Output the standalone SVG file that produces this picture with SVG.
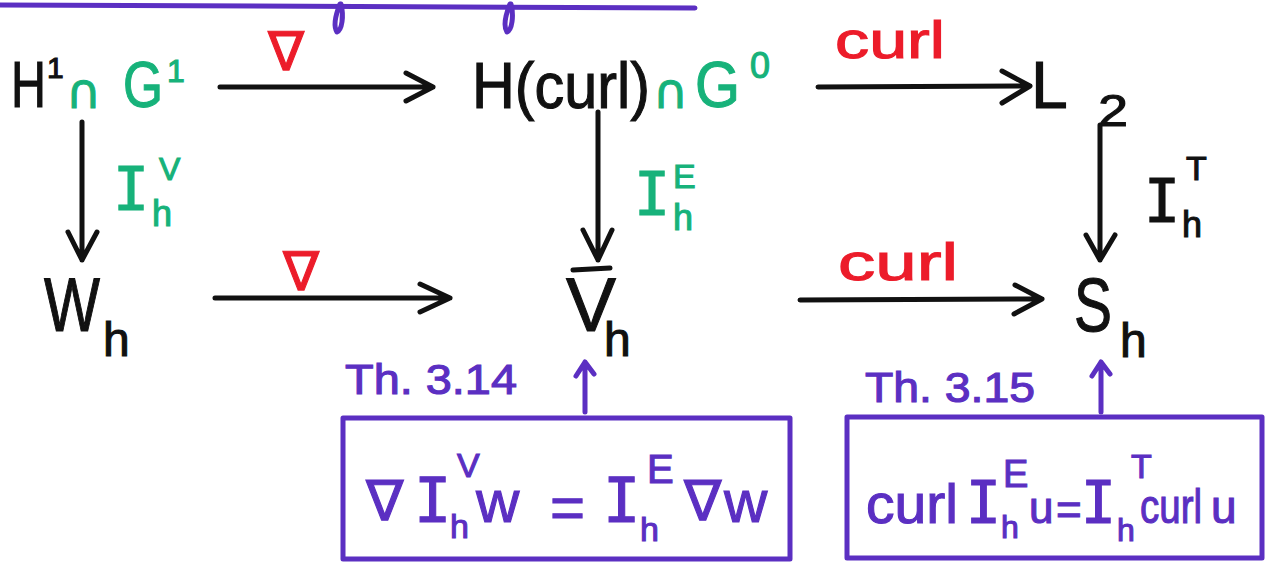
<svg xmlns="http://www.w3.org/2000/svg" width="1272" height="573" viewBox="0 0 1272 573">
<style>
.t{font-family:"Liberation Sans","DejaVu Sans",sans-serif}
.s{font-family:"DejaVu Sans","Liberation Sans",sans-serif}
.m{font-family:"DejaVu Sans Mono","Liberation Mono",monospace}
.k{fill:#111;stroke:#111;stroke-width:1.1}
.g{fill:#17b27a;stroke:#17b27a;stroke-width:1.1}
.r{fill:#ec1c2a;stroke:#ec1c2a;stroke-width:1.1}
.p{fill:#5b2fc2;stroke:#5b2fc2;stroke-width:1.1}
.ln{fill:none;stroke:#111;stroke-width:5;stroke-linecap:round;stroke-linejoin:round}
.pl{fill:none;stroke:#5b2fc2;stroke-width:5;stroke-linecap:round;stroke-linejoin:round}
</style>
<rect width="1272" height="573" fill="#fff"/>
<g id="topline">
<path class="pl" d="M0 5 L695 8"/>
<path class="pl" d="M340 4 C336 14 333 26 337 32 C342 30 344 16 341 4"/>
<path class="pl" d="M510 4 C506 14 503 26 507 32 C512 30 514 16 511 4"/>
</g>
<g id="connectors">
<path class="ln" d="M220 87 L433 87 M406 73 L433 87 L406 101"/>
<path class="ln" d="M818 87 L1030 86 M1002 71 L1030 86 L1002 103"/>
<path class="ln" d="M215 298 L450 298 M420 284 L450 298 L420 312"/>
<path class="ln" d="M800 300 L1042 299 M1015 285 L1042 299 L1014 314"/>
<path class="ln" d="M82 122 L82 260 M68 232 L82 260 L97 232"/>
<path class="ln" d="M598 112 L598 260 M583 230 L598 260 L612 230"/>
<path class="ln" d="M1100 125 L1100 260 M1086 235 L1100 260 L1115 235"/>
<path class="pl" d="M585 412 L585 362 M576 376 L585 362 L594 374"/>
<path class="pl" d="M1101 412 L1101 362 M1092 376 L1101 362 L1110 374"/>
</g>
<g id="edge-labels">
<text class="s r" x="268" y="70" font-size="54">∇</text>
<text class="s r" x="283" y="290" font-size="54">∇</text>
<text class="t r" x="835" y="58" font-size="52" textLength="110" lengthAdjust="spacingAndGlyphs">curl</text>
<text class="t r" x="838" y="280" font-size="52" textLength="120" lengthAdjust="spacingAndGlyphs">curl</text>
<g id="IV"><text class="m g" x="113" y="210" font-size="60">I</text><text class="t g" x="159" y="180" font-size="32">V</text><text class="t g" x="152" y="226" font-size="36">h</text></g>
<g id="IE"><text class="m g" x="634" y="215" font-size="60">I</text><text class="t g" x="673" y="188" font-size="34">E</text><text class="t g" x="673" y="230" font-size="36">h</text></g>
<g id="IT"><text class="m k" x="1144" y="222" font-size="60">I</text><text class="t k" x="1186" y="180" font-size="34">T</text><text class="t k" x="1182" y="237" font-size="36">h</text></g>
</g>
<g id="node-H1G1">
<text class="t k" x="11" y="107" font-size="64" textLength="35" lengthAdjust="spacingAndGlyphs">H</text>
<text class="t k" x="47" y="78" font-size="30">1</text>
<text class="s g" x="66" y="108" font-size="48">∩</text>
<text class="t g" x="123" y="107" font-size="64" textLength="40" lengthAdjust="spacingAndGlyphs">G</text>
<text class="t g" x="167" y="82" font-size="32">1</text>
</g>
<g id="node-Hcurl">
<text class="t k" x="472" y="108" font-size="64" textLength="178" lengthAdjust="spacingAndGlyphs">H(curl)</text>
<text class="s g" x="653" y="108" font-size="48">∩</text>
<text class="t g" x="695" y="107" font-size="64" textLength="45" lengthAdjust="spacingAndGlyphs">G</text>
<text class="t g" x="750" y="78" font-size="36">0</text>
</g>
<g id="node-L2">
<text class="t k" x="1031" y="108" font-size="66">L</text>
<text class="t k" x="1098" y="126" font-size="44" textLength="30" lengthAdjust="spacingAndGlyphs">2</text>
</g>
<g id="node-Wh">
<text class="t k" x="44" y="331" font-size="76" textLength="56" lengthAdjust="spacingAndGlyphs">W</text>
<text class="t k" x="103" y="356" font-size="48">h</text>
</g>
<g id="node-Vh">
<text class="t k" x="566" y="331" font-size="76" textLength="50" lengthAdjust="spacingAndGlyphs">V</text>
<path class="ln" d="M573 270 L610 268"/>
<text class="t k" x="604" y="356" font-size="48">h</text>
</g>
<g id="node-Sh">
<text class="t k" x="1074" y="331" font-size="76" textLength="38" lengthAdjust="spacingAndGlyphs">S</text>
<text class="t k" x="1120" y="357" font-size="48">h</text>
</g>
<g id="thm314">
<text class="t p" x="345" y="394" font-size="42" textLength="172" lengthAdjust="spacingAndGlyphs">Th. 3.14</text>
<rect class="pl" x="343" y="418" width="447" height="141"/>
<text class="s p" x="366" y="520" font-size="56">∇</text>
<text class="m p" x="414" y="522" font-size="62">I</text>
<text class="t p" x="457" y="477" font-size="34">V</text>
<text class="t p" x="450" y="538" font-size="34">h</text>
<text class="t p" x="476" y="522" font-size="60">w</text>
<text class="t p" x="550" y="528" font-size="60">=</text>
<text class="m p" x="603" y="522" font-size="62">I</text>
<text class="t p" x="647" y="483" font-size="40">E</text>
<text class="t p" x="640" y="541" font-size="34">h</text>
<text class="s p" x="684" y="520" font-size="56">∇</text>
<text class="t p" x="724" y="522" font-size="60">w</text>
</g>
<g id="thm315">
<text class="t p" x="865" y="402" font-size="42" textLength="170" lengthAdjust="spacingAndGlyphs">Th. 3.15</text>
<rect class="pl" x="847" y="417" width="415" height="141"/>
<text class="t p" x="866" y="523" font-size="56" textLength="92" lengthAdjust="spacingAndGlyphs">curl</text>
<text class="m p" x="966" y="523" font-size="58">I</text>
<text class="t p" x="1003" y="487" font-size="38">E</text>
<text class="t p" x="1001" y="538" font-size="32">h</text>
<text class="t p" x="1029" y="523" font-size="44">u</text>
<text class="t p" x="1056" y="525" font-size="44">=</text>
<text class="m p" x="1081" y="523" font-size="58">I</text>
<text class="t p" x="1131" y="478" font-size="34">T</text>
<text class="t p" x="1117" y="541" font-size="32">h</text>
<text class="t p" x="1140" y="523" font-size="48" textLength="62" lengthAdjust="spacingAndGlyphs">curl</text>
<text class="t p" x="1211" y="523" font-size="46">u</text>
</g>
</svg>
